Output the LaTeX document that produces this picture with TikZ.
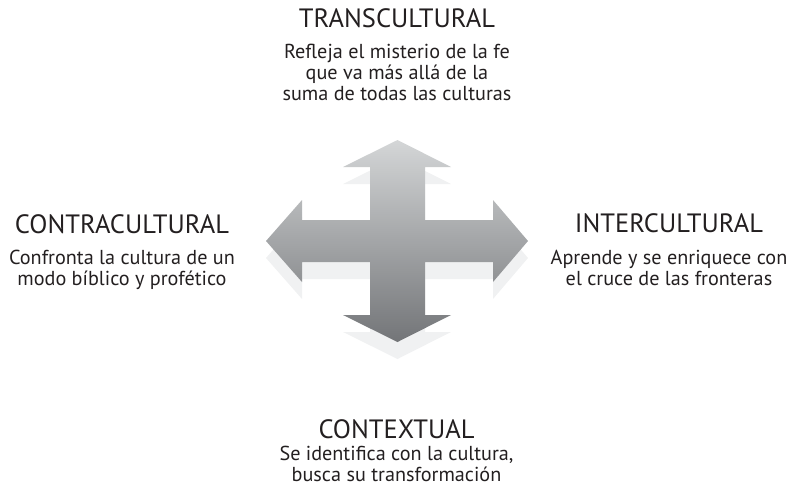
\documentclass[tikz,border=0pt]{standalone}
\usepackage{fontspec}
\setmainfont{PT Sans}
\usepackage{xcolor}
\usetikzlibrary{positioning}
\definecolor{arrowTop}{HTML}{D4D6D7}
\definecolor{arrowBot}{HTML}{737578}
\definecolor{arrowSide}{HTML}{F0F1F2}
\definecolor{txtDark}{HTML}{231F20}

\begin{document}
\begin{tikzpicture}[x=1pt, y=-1pt,
    heading/.style={text=txtDark, font=\fontsize{26.5}{30}\selectfont, inner sep=0pt, anchor=base},
    desc/.style={text=txtDark, font=\fontsize{20.2}{21}\selectfont, align=center, inner sep=0pt, anchor=base}]
    \useasboundingbox (0,0) rectangle (798,483);
    % four-way arrow, extruded side first
    \def\crosspath{(397.5,140) -- (451,167) -- (425,167) -- (425,220) -- (493,220) -- (493,200)
        -- (528,241) -- (493,282) -- (493,262) -- (425,262) -- (425,315) -- (451,315)
        -- (397.5,342) -- (343,315) -- (370,315) -- (370,262) -- (302,262) -- (302,282)
        -- (266,241) -- (302,200) -- (302,220) -- (370,220) -- (370,167) -- (343,167) -- cycle}
    \fill[arrowSide, yshift=-17pt] \crosspath;
    \shade[top color=arrowTop, bottom color=arrowBot] \crosspath;
    % labels (desc base = its last line)
    \node[heading] (trans) at (397,27) {TRANSCULTURAL};
    \node[desc, below=73pt of trans.base, anchor=base] (transTxt)
        {Refleja el misterio de la fe\\que va más allá de la\\suma de todas las culturas};
    \node[heading] (contra) at (122,233) {CONTRACULTURAL};
    \node[desc, below=52pt of contra.base, anchor=base] (contraTxt)
        {Confronta la cultura de un\\modo bíblico y profético};
    \node[heading] (inter) at (669,232) {INTERCULTURAL};
    \node[desc, below=53pt of inter.base, anchor=base] (interTxt)
        {Aprende y se enriquece con\\el cruce de las fronteras};
    \node[heading] (context) at (396.5,438) {CONTEXTUAL};
    \node[desc, below=43pt of context.base, anchor=base] (contextTxt)
        {Se identifica con la cultura,\\busca su transformación};
\end{tikzpicture}
\end{document}
